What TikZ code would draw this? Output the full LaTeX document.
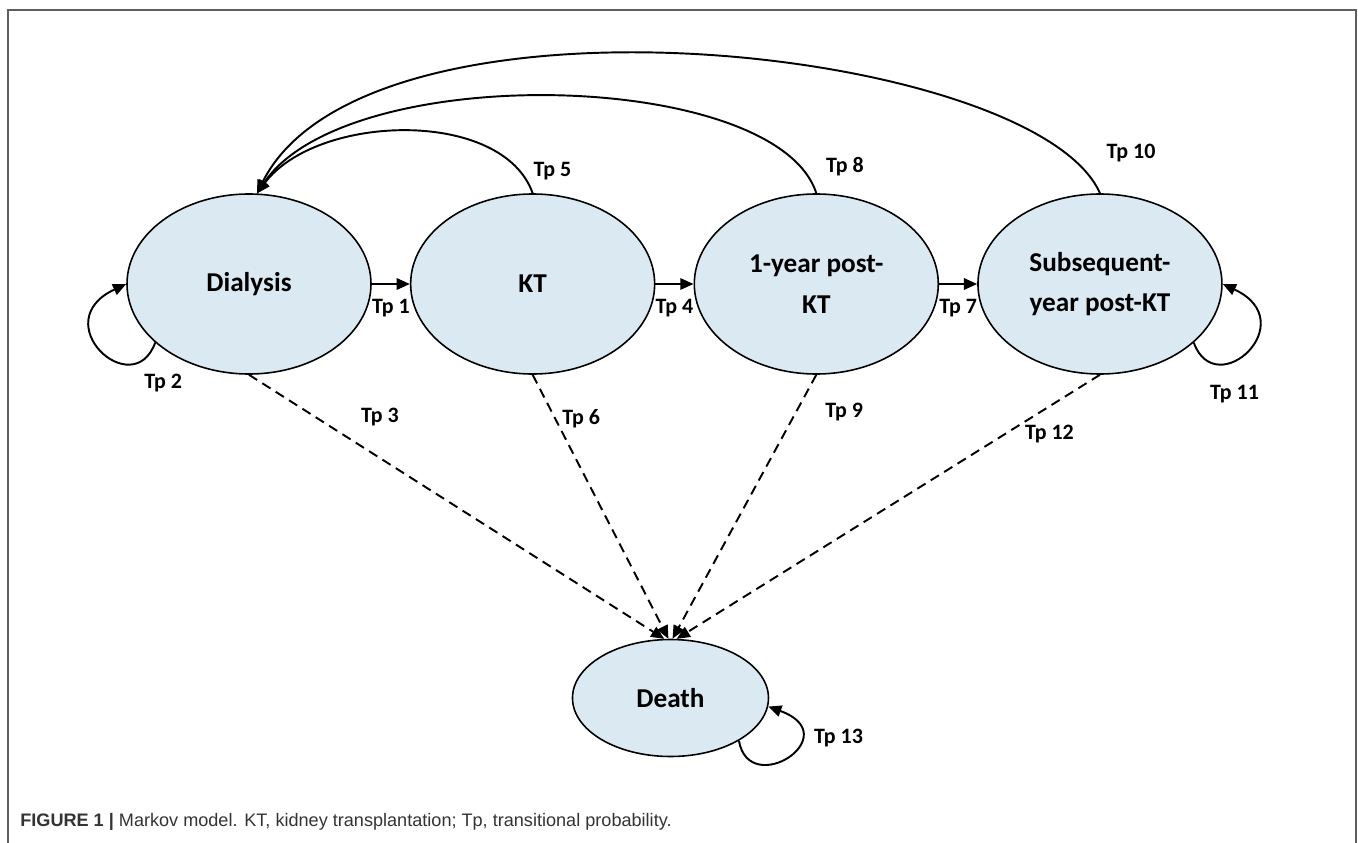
\documentclass[tikz,border=0pt]{standalone}
\usepackage{fontspec}
\usepackage{xcolor}
\usepackage{tikz}
\usetikzlibrary{arrows.meta, positioning, calc, shapes.geometric}
\setmainfont{Carlito}
\newfontfamily\capfont{Liberation Sans}
\definecolor{stateblue}{RGB}{219,234,242}
\definecolor{framegray}{RGB}{95,95,95}
\tikzstyle{arrow} = [line width=1.1pt,-{Triangle[length=7.5pt,width=6.5pt]}]

\begin{document}
\begin{tikzpicture}[node distance=5.673cm, on grid]
    \tikzstyle{state}=[
        ellipse,
        draw,
        line width=0.9pt,
        fill=stateblue,
        minimum width=4.88cm, minimum height=3.6cm, % uniform size
        inner sep=0pt,
        align=center,
        font=\bfseries\fontsize{15.5}{23}\selectfont
    ]
    \tikzstyle{tp}=[font=\bfseries\fontsize{12.5}{14}\selectfont, inner sep=1pt]
    \tikzstyle{dead}=[arrow, dash pattern=on 5.5pt off 3.5pt]

    \useasboundingbox (0,0) rectangle (27.16,-16.86);
    \draw[framegray, line width=0.8pt] (0.16,-16.86) -- (0.16,-0.2) -- (27.12,-0.2) -- (27.12,-16.86);

    \node[state] (dial) at (4.98,-5.68) {Dialysis};
    \node[state] (kt) [right=of dial] {KT};
    \node[state] (post1) [right=of kt] {1-year post-\\KT};
    \node[state] (post2) [right=of post1] {Subsequent-\\year post-KT};
    \node[state, minimum width=3.92cm, minimum height=2.34cm] (death)
        at ($(kt)!0.5!(post1)+(-0.08,-8.28)$) {Death};

    \path[arrow]
    (dial) edge node[tp, below=7pt] {Tp 1} (kt)
    (kt) edge node[tp, below=7pt] {Tp 4} (post1)
    (post1) edge node[tp, below=7pt] {Tp 7} (post2);

    % loops
    \draw[arrow] (dial.212) .. controls +(-110:1.3) and +(205:1.8) .. (dial.west)
        node[tp, pos=0.15, below right, yshift=-6pt] {Tp 2};
    \draw[arrow] (post2.-32) .. controls +(-70:1.3) and +(-25:1.8) .. (post2.east)
        node[tp, pos=0.15, below right, yshift=-12pt] {Tp 11};
    \draw[arrow] (death.-32) .. controls +(-80:1.2) and +(-20:1.7) .. (death.-5)
        node[tp, pos=0.7, right, xshift=7pt] {Tp 13};

    % back to dialysis
    \draw[arrow] (kt.north) .. controls +(-0.6,1.7) and +(1.2,1.6) .. (dial.85)
        node[tp, pos=0, anchor=south west, xshift=-1pt, yshift=6pt] {Tp 5};
    \draw[arrow] (post1.north) .. controls +(-0.8,2.48) and +(1.8,2.68) .. (dial.85)
        node[tp, pos=0, anchor=south west, xshift=4pt, yshift=8.5pt] {Tp 8};
    \draw[arrow] (post2.north) .. controls +(-1.3,2.95) and +(2.2,4.4) .. (dial.85)
        node[tp, pos=0, anchor=south west, xshift=2.3pt, yshift=16.5pt] {Tp 10};

    % to death
    \path[dead]
    (dial.south) edge node[tp, pos=0.2, above right, xshift=15pt, yshift=-0.5pt] {Tp 3} (death.96)
    (kt.south) edge node[tp, pos=0.16, right, xshift=3pt, yshift=-1pt] {Tp 6} (death.92)
    (post1.south) edge node[tp, pos=0.14, right, xshift=15pt] {Tp 9} (death.88)
    (post2.south) edge node[tp, pos=0.225, right, xshift=10pt] {Tp 12} (death.84);

    \node[anchor=base west, inner sep=0pt, text=black!80] (caption) at (0.4,-16.52)
        {\capfont\fontsize{10.3}{12}\selectfont\textbf{FIGURE 1 |} Markov model. KT, kidney transplantation; Tp, transitional probability.};
\end{tikzpicture}
\end{document}
